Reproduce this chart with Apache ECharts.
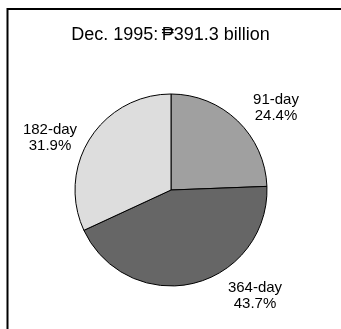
<!DOCTYPE html>
<html>
<head>
<meta charset="utf-8">
<script src="https://cdn.jsdelivr.net/npm/echarts@6/dist/echarts.min.js"></script>
<style>
  html, body { margin: 0; padding: 0; background: #fff; }
  #chart { width: 341px; height: 329px; }
</style>
</head>
<body>
<div id="chart"></div>
<script>
// Treasury bill holdings by tenor
const titleText = 'Dec. 1995:\u2009\u20B1391.3 billion';
const tenors = ['91-day', '364-day', '182-day'];
const shares = [24.4, 43.7, 31.9];
const sliceColors = ['#a0a0a0', '#666666', '#dddddd'];

// label anchor points (pixels) beside each slice
const labelSpots = [[276, 108], [255, 296], [50, 138]];

const chart = echarts.init(document.getElementById('chart'), null, { renderer: 'canvas' });

chart.setOption({
  animation: false,
  backgroundColor: '#ffffff',
  textStyle: { fontFamily: 'Liberation Sans, Arial, DejaVu Sans, sans-serif' },
  title: {
    text: titleText,
    left: 'center',
    top: 21,
    textStyle: { fontSize: 18, fontWeight: 'normal', color: '#000',
      fontFamily: 'Liberation Sans, Arial, DejaVu Sans, sans-serif' }
  },
  graphic: [{
    type: 'rect',
    shape: { x: 7.5, y: 9, width: 500, height: 500 },
    style: { fill: 'none', stroke: '#000', lineWidth: 2 },
    silent: true
  }],
  series: [{
    type: 'pie',
    center: [171, 190],
    radius: 96,
    startAngle: 90,
    clockwise: true,
    avoidLabelOverlap: false,
    itemStyle: { borderColor: '#000', borderWidth: 1 },
    emphasis: { disabled: true },
    label: {
      show: true,
      position: 'outside',
      formatter: p => p.name + '\n' + p.value.toFixed(1) + '%',
      fontSize: 15,
      lineHeight: 16,
      color: '#000',
      align: 'center',
      fontFamily: 'Liberation Sans, Arial, DejaVu Sans, sans-serif'
    },
    labelLine: { show: false },
    labelLayout: p => ({
      x: labelSpots[p.dataIndex][0],
      y: labelSpots[p.dataIndex][1],
      align: 'center',
      verticalAlign: 'middle'
    }),
    data: tenors.map((name, i) => ({
      name: name,
      value: shares[i],
      itemStyle: { color: sliceColors[i] }
    }))
  }]
});
</script>
</body>
</html>
